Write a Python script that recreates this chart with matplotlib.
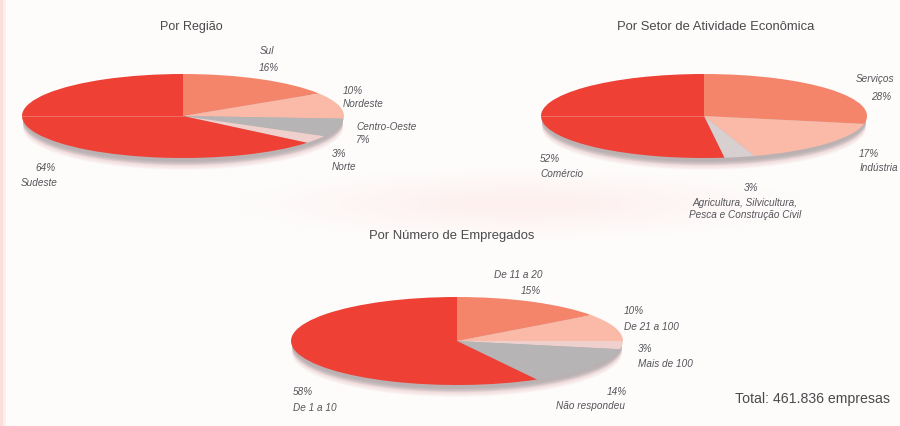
import matplotlib
matplotlib.use('Agg')
import matplotlib.pyplot as plt
from matplotlib.patches import Ellipse

plt.rcParams['font.family'] = ['Liberation Sans', 'DejaVu Sans']

# Data
regiao_names = ['Sul', 'Nordeste', 'Centro-Oeste', 'Norte', 'Sudeste']
regiao_vals = [16, 10, 7, 3, 64]
setor_names = ['Serviços', 'Indústria', 'Agricultura, Silvicultura,\nPesca e Construção Civil', 'Comércio']
setor_vals = [28, 17, 3, 52]
empreg_names = ['De 11 a 20', 'De 21 a 100', 'Mais de 100', 'Não respondeu', 'De 1 a 10']
empreg_vals = [15, 10, 3, 14, 58]

red = '#ee4035'
salmon = '#f4846a'
light = '#fbb9a8'
gray = '#b6b4b4'
pale = '#efd0cc'
pale_gray = '#d8cfd1'

W, H = 900, 427
fig = plt.figure(figsize=(W / 100, H / 100), dpi=100, facecolor='#fdfcfb')

# full-figure axes in pixels, used for text and the page background
bg = fig.add_axes([0, 0, 1, 1], zorder=0)
bg.set_xlim(0, W)
bg.set_ylim(H, 0)
bg.axis('off')

# scanned page tint
bg.axvspan(0, 3, color='#fbdedb', lw=0)
bg.axvspan(3, 6, color='#fdeeec', lw=0)
for i in range(12):
    bg.add_patch(Ellipse((520, 205), 560 - i * 40, 70 - i * 5, color='#fde4df', alpha=0.012, lw=0))


def draw_pie(cx, cy, rx, ry, vals, colors, fold=True):
    # soft shadow under the disc, pink at the rim and grey close to the edge
    for i in range(12):
        bg.add_patch(Ellipse((cx, cy + 12 - i * 0.8), 2 * rx - 2, 2 * ry,
                             color='#e2a0a0' if i < 6 else '#a8a4a6', alpha=0.06 if i < 6 else 0.2, lw=0))
    ax = fig.add_axes([(cx - rx) / W, 1 - (cy + ry) / H, 2 * rx / W, 2 * ry / H], zorder=2)
    ax.pie(vals, colors=colors, startangle=90, counterclock=False, radius=1,
           wedgeprops={'linewidth': 0})
    ax.set_aspect('auto')
    ax.set_xlim(-1, 1)
    ax.set_ylim(-1, 1)
    if fold:
        # fold of the page runs through the left half
        ax.plot([-1, 0], [0, 0], color='#f9a79c', lw=0.7, alpha=0.45)
    return ax


draw_pie(183, 117, 161, 42, regiao_vals, [salmon, light, gray, pale, red])
draw_pie(704, 117, 163, 42, setor_vals, [salmon, light, pale_gray, red])
draw_pie(457, 342, 166, 44, empreg_vals, [salmon, light, pale, gray, red], fold=False)

# Titles
title_color = '#4a4a4c'
for x, y, s, size in [(191, 27, 'Por Região', 9), (716, 27, 'Por Setor de Atividade Econômica', 9.4),
                      (452, 236, 'Por Número de Empregados', 9.4)]:
    bg.text(x, y, s, ha='center', va='center', fontsize=size, color=title_color)
bg.text(890, 399, 'Total: 461.836 empresas', ha='right', va='center', fontsize=10.2, color=title_color)


def label(x, y, s, ha='left'):
    bg.text(x, y, s, ha=ha, va='center', fontsize=7.2, style='italic', color='#55555a')


# Por Região
label(260, 51, regiao_names[0])
label(259, 68, f'{regiao_vals[0]}%')
label(343, 91, f'{regiao_vals[1]}%')
label(343, 104, regiao_names[1])
label(356, 127, regiao_names[2])
label(356, 140, f'{regiao_vals[2]}%')
label(332, 154, f'{regiao_vals[3]}%')
label(332, 167, regiao_names[3])
label(35, 168, f'{regiao_vals[4]}%')
label(21, 183, regiao_names[4])

# Por Setor
label(856, 79, setor_names[0])
label(871, 97, f'{setor_vals[0]}%')
label(859, 154, f'{setor_vals[1]}%')
label(860, 168, setor_names[1])
label(751, 188, f'{setor_vals[2]}%', ha='center')
bg.text(745, 209, setor_names[2], ha='center', va='center', fontsize=7.2, style='italic',
        color='#55555a', linespacing=1.25)
label(540, 159, f'{setor_vals[3]}%')
label(540, 174, setor_names[3])

# Por Número de Empregados
label(494, 275, empreg_names[0])
label(521, 291, f'{empreg_vals[0]}%')
label(624, 311, f'{empreg_vals[1]}%')
label(624, 327, empreg_names[1])
label(638, 349, f'{empreg_vals[2]}%')
label(638, 364, empreg_names[2])
label(607, 392, f'{empreg_vals[3]}%')
label(556, 406, empreg_names[3])
label(293, 392, f'{empreg_vals[4]}%')
label(293, 408, empreg_names[4])

fig.savefig('out.png', dpi=100, facecolor=fig.get_facecolor())
